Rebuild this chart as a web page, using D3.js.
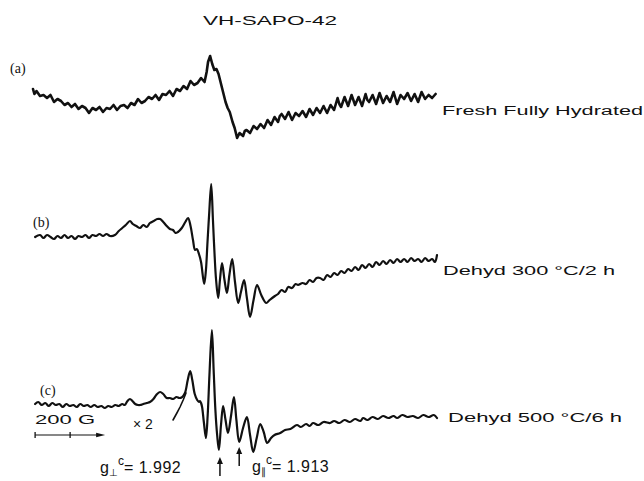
<!DOCTYPE html>
<html lang="en">
<head>
<meta charset="utf-8">
<title>VH-SAPO-42</title>
<script src="https://d3js.org/d3.v7.min.js"></script>
<style>
  body { margin: 0; background: #fff; }
  svg { display: block; }
  .trace { fill: none; stroke: #111; stroke-width: 2; stroke-linejoin: round; stroke-linecap: round; }
  .lbl { font-family: "Liberation Sans", Arial, sans-serif; fill: #111; }
  .tag { font-family: "Liberation Serif", "DejaVu Serif", serif; fill: #111; }
</style>
</head>
<body>
<script>
// field in gauss (relative), intensity in arbitrary units
var traceA = [[0,11],[4,6],[10,9],[20,4],[30,5],[40,2],[50,5],[60,-2],[70,1],[80,-1],[90,-5],
  [100,-3],[110,-7],[120,-4],[130,-9],[140,-6],[150,-8],[160,-13],[170,-8],[180,-10],[190,-7],
  [200,-12],[210,-8],[220,-9],[230,-5],[240,-10],[250,-6],[260,-5],[270,-8],[280,-3],[290,-5],
  [300,1],[310,-3],[320,-1],[330,3],[340,1],[350,5],[360,0],[370,6],[380,5],[390,9],[400,4],
  [410,11],[420,9],[430,14],[440,11],[450,19],[460,15],[470,17],[480,22],[490,18],[496,28],
  [500,38],[506,44],[512,36],[518,30],[524,31],[530,26],[540,12],[550,-2],[556,-8],[562,-12],
  [570,-22],[576,-28],[583,-38],[590,-33],[600,-36],[605,-31],[610,-30],[620,-33],[630,-26],
  [640,-29],[650,-24],[660,-28],[670,-20],[680,-25],[690,-17],[700,-22],[705,-16],[710,-14],
  [720,-19],[730,-12],[740,-20],[750,-13],[760,-16],[770,-11],[780,-17],[790,-9],[800,-15],
  [810,-8],[820,-13],[830,-6],[840,-13],[850,-5],[860,-10],[870,2],[875,-4],[880,-7],[890,3],
  [900,-6],[910,5],[920,-5],[930,3],[940,-6],[950,6],[955,0],[960,-2],[970,5],[980,-4],
  [990,7],[1000,-3],[1010,4],[1020,-2],[1030,8],[1040,-4],[1050,5],[1060,1],[1070,7],
  [1080,-1],[1090,6],[1100,-2],[1110,8],[1120,1],[1130,5],[1140,2],[1150,6]];

var traceB = [[6,3],[20,5],[30,2],[40,5],[50,3],[60,1],[70,4],[80,2],[90,5],[100,2],[110,4],
  [120,1],[130,4],[140,3],[150,5],[160,2],[170,5],[180,4],[190,6],[200,4],[210,6],[220,4],
  [234,5],[245,9],[255,12],[265,15],[277,19],[285,16],[295,14],[306,12],[315,15],[325,13],
  [334,17],[345,19],[355,21],[363,21],[372,18],[382,14],[391,11],[400,10],[407,7],[414,8],
  [425,12],[435,18],[443,22],[450,14],[457,0],[463,-10],[468,-9],[474,-14],[480,-22],[489,-44],
  [494,-30],[498,-5],[503,25],[509,56],[514,20],[518,-10],[523,-40],[529,-58],[534,-40],
  [540,-23],[547,-40],[554,-53],[561,-35],[569,-19],[577,-42],[586,-63],[594,-52],[603,-40],
  [611,-58],[620,-77],[630,-60],[640,-45],[652,-55],[666,-63],[676,-60],[691,-56],[700,-54],
  [710,-50],[720,-52],[729,-47],[740,-48],[750,-44],[757,-45],[770,-43],[780,-44],[790,-40],
  [800,-42],[810,-38],[820,-38],[830,-40],[840,-35],[850,-37],[860,-33],[870,-35],[880,-31],
  [890,-33],[900,-29],[910,-31],[920,-27],[930,-30],[940,-25],[950,-28],[960,-24],[970,-27],
  [980,-22],[990,-25],[1000,-21],[1010,-24],[1020,-20],[1030,-23],[1040,-19],[1050,-22],
  [1060,-19],[1070,-22],[1080,-18],[1090,-21],[1100,-19],[1110,-22],[1120,-18],[1130,-21],
  [1140,-19],[1148,-22],[1154,-15]];

var traceC = [[6,6],[15,8],[25,5],[35,7],[45,4],[55,7],[65,5],[75,6],[85,3],[95,6],[105,4],
  [115,5],[125,3],[135,6],[145,4],[155,5],[165,3],[175,5],[185,3],[195,4],[205,2],[215,4],
  [225,3],[235,5],[245,4],[255,6],[262,5],[270,9],[277,11],[284,9],[292,6],[300,5],[306,5],
  [315,6],[325,7],[334,8],[344,11],[352,15],[363,18],[372,16],[382,12],[391,12],[400,11],
  [410,13],[418,12],[426,13],[434,17],[442,30],[449,39],[455,30],[462,16],[469,10],[474,8],
  [477,9],[480,7],[483,3],[488,-12],[494,-28],[499,-5],[504,35],[511,80],[516,40],[521,0],
  [526,-25],[531,-40],[537,-15],[543,4],[550,-10],[557,-23],[566,-5],[574,13],[581,-10],
  [589,-32],[600,-18],[611,-7],[620,-25],[629,-42],[639,-28],[649,-14],[659,-22],[669,-33],
  [680,-28],[690,-25],[706,-23],[720,-20],[735,-19],[754,-15],[765,-17],[780,-14],[790,-16],
  [800,-13],[815,-15],[830,-12],[849,-13],[860,-11],[875,-13],[890,-10],[905,-12],[920,-9],
  [935,-11],[943,-8],[955,-10],[970,-7],[985,-9],[1000,-6],[1015,-8],[1030,-6],[1040,-8],
  [1055,-5],[1070,-7],[1085,-6],[1100,-8],[1115,-5],[1130,-7],[1145,-5],[1154,-8]];

// x2 expanded branch of spectrum (c)
var traceC2 = [[400,-10],[411,-3],[420,3],[429,10],[437,17]];

var traceTags = ["(a)", "(b)", "(c)"];
var traceNames = ["Fresh Fully Hydrated", "Dehyd 300 \u00B0C/2 h", "Dehyd 500 \u00B0C/6 h"];
var scaleBarG = [6, 106, 206];   // 200 G marker
var gMarks = [534, 589];         // field positions of g-perp and g-par arrows
var gValues = ["1.992", "1.913"];

var W = 644, H = 481;
var svg = d3.select("body").append("svg")
  .attr("width", W).attr("height", H);

var x = d3.scaleLinear().domain([0, 1154]).range([33, 437]);
var yA = d3.scaleLinear().domain([-50, 50]).range([150, 50]);
var yB = d3.scaleLinear().domain([-100, 100]).range([340, 140]);
var yC = d3.scaleLinear().domain([-100, 100]).range([510, 310]);

function lineFor(ys, curve) {
  return d3.line()
    .x(function(d) { return x(d[0]); })
    .y(function(d) { return ys(d[1]); })
    .curve(curve);
}

svg.append("path").attr("class", "trace")
  .attr("d", lineFor(yA, d3.curveLinear)(traceA))
  .style("stroke-width", 2.6);
svg.append("path").attr("class", "trace")
  .attr("d", lineFor(yB, d3.curveCatmullRom.alpha(0.5))(traceB))
  .style("stroke-width", 2.2);
svg.append("path").attr("class", "trace")
  .attr("d", lineFor(yC, d3.curveCatmullRom.alpha(0.5))(traceC))
  .style("stroke-width", 2.2);
svg.append("path").attr("class", "trace")
  .attr("d", lineFor(yC, d3.curveLinear)(traceC2))
  .style("stroke-width", 1.6);

// title
svg.append("text").attr("class", "lbl")
  .attr("x", 203).attr("y", 25)
  .attr("font-size", 13)
  .attr("textLength", 134).attr("lengthAdjust", "spacingAndGlyphs")
  .text("VH-SAPO-42");

// (a) (b) (c)
var tagPos = [[10, 73], [33, 227], [40, 395]];
svg.selectAll("text.tag").data(traceTags).enter().append("text")
  .attr("class", "tag")
  .attr("x", function(d, i) { return tagPos[i][0]; })
  .attr("y", function(d, i) { return tagPos[i][1]; })
  .attr("font-size", 14)
  .text(function(d) { return d; });

// right-hand condition labels
var namePos = [[442, 115, 201], [443, 275, 172], [448, 422, 174]];
svg.selectAll("text.name").data(traceNames).enter().append("text")
  .attr("class", "lbl name")
  .attr("x", function(d, i) { return namePos[i][0]; })
  .attr("y", function(d, i) { return namePos[i][1]; })
  .attr("font-size", 12.5)
  .attr("textLength", function(d, i) { return namePos[i][2]; })
  .attr("lengthAdjust", "spacingAndGlyphs")
  .text(function(d) { return d; });

// 200 G scale bar
var barY = 435;
svg.append("text").attr("class", "lbl")
  .attr("x", x(scaleBarG[0])).attr("y", 424)
  .attr("font-size", 13)
  .attr("textLength", 60).attr("lengthAdjust", "spacingAndGlyphs")
  .text("200 G");
svg.append("line")
  .attr("x1", x(scaleBarG[0])).attr("x2", x(scaleBarG[2]) - 6)
  .attr("y1", barY).attr("y2", barY)
  .attr("stroke", "#111").attr("stroke-width", 1.2);
svg.selectAll("line.tick").data(scaleBarG.slice(0, 2)).enter().append("line")
  .attr("class", "tick")
  .attr("x1", function(d) { return x(d); }).attr("x2", function(d) { return x(d); })
  .attr("y1", barY - 3).attr("y2", barY + 3)
  .attr("stroke", "#111").attr("stroke-width", 1.3);
svg.append("path")
  .attr("d", "M" + x(scaleBarG[2]) + "," + barY + "l-9,-2.2l0,4.4z")
  .attr("fill", "#111");

svg.append("text").attr("class", "lbl")
  .attr("x", 133).attr("y", 429)
  .attr("font-size", 14)
  .text("\u00D7 2");

// g-value arrows
var arrowSpans = [[457, 476], [447, 466]];
gMarks.forEach(function(g, i) {
  var ax = x(g);
  svg.append("line")
    .attr("x1", ax).attr("x2", ax)
    .attr("y1", arrowSpans[i][0] + 5).attr("y2", arrowSpans[i][1])
    .attr("stroke", "#111").attr("stroke-width", 1.5);
  svg.append("path")
    .attr("d", "M" + ax + "," + arrowSpans[i][0] + "l-3,7l6,0z")
    .attr("fill", "#111");
});

// g labels
var gLab = [[100, 473, "\u22A5"], [252, 472, "\u2225"]];
gValues.forEach(function(v, i) {
  var t = svg.append("text").attr("class", "lbl")
    .attr("x", gLab[i][0]).attr("y", gLab[i][1])
    .attr("font-size", 16);
  t.append("tspan").text("g");
  t.append("tspan").attr("font-size", 10).attr("dy", 3).text(gLab[i][2]);
  t.append("tspan").attr("font-size", 12).attr("dy", -11).text("c");
  t.append("tspan").attr("dy", 8).attr("letter-spacing", 0.5).text("= " + v);
});
</script>
</body>
</html>
